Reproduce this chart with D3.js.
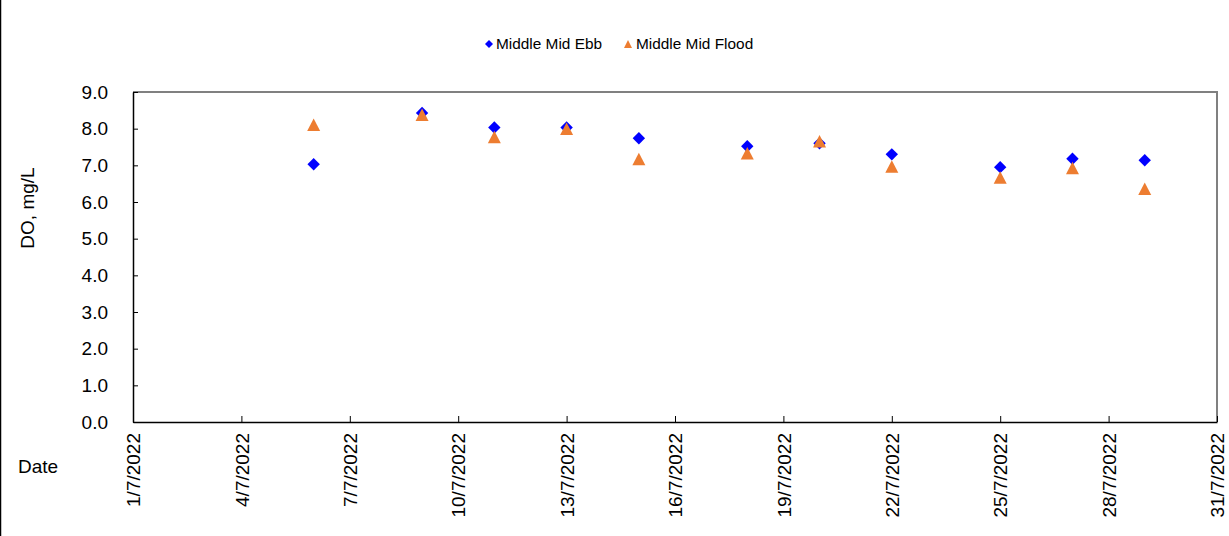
<!DOCTYPE html>
<html>
<head>
<meta charset="utf-8">
<script src="https://cdn.jsdelivr.net/npm/d3@7"></script>
<style>
  html, body { margin: 0; padding: 0; background: #fff; }
  svg { display: block; font-family: "Liberation Sans", Arial, sans-serif; }
</style>
</head>
<body>
<svg id="chart" width="1229" height="536"></svg>
<script>
// ---- data ----
const dates = ["2022-07-06","2022-07-09","2022-07-11","2022-07-13","2022-07-15","2022-07-18","2022-07-20","2022-07-22","2022-07-25","2022-07-27","2022-07-29"];
const ebbValues   = [7.03, 8.43, 8.03, 8.03, 7.74, 7.52, 7.60, 7.30, 6.95, 7.18, 7.14];
const floodValues = [8.11, 8.38, 7.77, 8.00, 7.17, 7.33, 7.66, 6.97, 6.67, 6.93, 6.36];
const seriesNames = ["Middle Mid Ebb", "Middle Mid Flood"];
const yTicks = [0,1,2,3,4,5,6,7,8,9];
const xTickLabels = ["1/7/2022","4/7/2022","7/7/2022","10/7/2022","13/7/2022","16/7/2022","19/7/2022","22/7/2022","25/7/2022","28/7/2022","31/7/2022"];
const xDomain = ["2022-07-01","2022-07-31"];
const yTitle = "DO, mg/L";
const xTitle = "Date";

const parse = d3.timeParse("%Y-%m-%d");
const parseLabel = d3.timeParse("%d/%m/%Y");

const svg = d3.select("#chart");
const W = 1229, H = 536;
const m = {left: 133, right: 1217, top: 92, bottom: 422};

const x = d3.scaleTime().domain(xDomain.map(parse)).range([m.left, m.right]);
const y = d3.scaleLinear().domain([0, 9]).range([m.bottom, m.top]);

// outer frame (left edge visible)
svg.append("line").attr("x1", 0.5).attr("x2", 0.5).attr("y1", 0).attr("y2", H)
  .attr("stroke", "#000").attr("stroke-width", 1.5);

// plot border: top & right gray
svg.append("path")
  .attr("d", `M${m.left},${m.top}H${m.right}V${m.bottom}`)
  .attr("fill", "none").attr("stroke", "#808080").attr("stroke-width", 2);

// y axis
const yAxis = d3.axisLeft(y).tickValues(yTicks).tickFormat(d3.format(".1f")).tickSizeInner(-5).tickSizeOuter(0).tickPadding(25);
const gy = svg.append("g").attr("transform", `translate(${m.left},0)`).call(yAxis);
gy.select(".domain").attr("stroke", "#000").attr("stroke-width", 1.5);
gy.selectAll(".tick line").attr("stroke", "#000");
gy.selectAll(".tick text").attr("font-size", 19).attr("fill", "#000")
  .attr("font-family", "'Liberation Sans', Arial, sans-serif");

// x axis
const xTickDates = xTickLabels.map(parseLabel);
const xAxis = d3.axisBottom(x).tickValues(xTickDates).tickFormat(d => d3.timeFormat("%-d/%-m/%Y")(d)).tickSizeInner(-6).tickSizeOuter(0);
const gx = svg.append("g").attr("transform", `translate(0,${m.bottom})`).call(xAxis);
gx.select(".domain").attr("stroke", "#000").attr("stroke-width", 1.5);
gx.selectAll(".tick line").attr("stroke", "#000");
gx.selectAll(".tick text")
  .attr("font-size", 19).attr("fill", "#000")
  .attr("font-family", "'Liberation Sans', Arial, sans-serif")
  .attr("transform", "rotate(-90)")
  .attr("text-anchor", "end")
  .attr("x", -11).attr("y", 0).attr("dy", "0.35em");

// axis titles
svg.append("text").attr("transform", `translate(34,208) rotate(-90)`)
  .attr("text-anchor", "middle").attr("font-size", 19).attr("fill", "#000").text(yTitle);
svg.append("text").attr("x", 18).attr("y", 473)
  .attr("font-size", 19).attr("fill", "#000").text(xTitle);

// marker shapes (centred on bounding box, like spreadsheet markers)
const diamondPath = r => `M0,${-r}L${r},0L0,${r}L${-r},0Z`;
const trianglePath = (w, h) => `M0,${-h/2}L${w/2},${h/2}L${-w/2},${h/2}Z`;

const ebbData = dates.map((d, i) => ({date: parse(d), v: ebbValues[i]}));
const floodData = dates.map((d, i) => ({date: parse(d), v: floodValues[i]}));

svg.append("g").selectAll("path").data(ebbData).join("path")
  .attr("d", diamondPath(6.2))
  .attr("transform", d => `translate(${x(d.date)},${y(d.v)})`)
  .attr("fill", "#0000FF");

svg.append("g").selectAll("path").data(floodData).join("path")
  .attr("d", trianglePath(13, 12.5))
  .attr("transform", d => `translate(${x(d.date)},${y(d.v)})`)
  .attr("fill", "#ED7D31");

// legend
const lg = svg.append("g");
lg.append("path").attr("d", diamondPath(4))
  .attr("transform", "translate(489,44)").attr("fill", "#0000FF");
lg.append("text").attr("x", 496).attr("y", 49).attr("font-size", 15.4).attr("fill", "#000").text(seriesNames[0]);
lg.append("path").attr("d", trianglePath(8, 8))
  .attr("transform", "translate(628,44)").attr("fill", "#ED7D31");
lg.append("text").attr("x", 636).attr("y", 49).attr("font-size", 15.4).attr("fill", "#000").text(seriesNames[1]);
</script>
</body>
</html>
